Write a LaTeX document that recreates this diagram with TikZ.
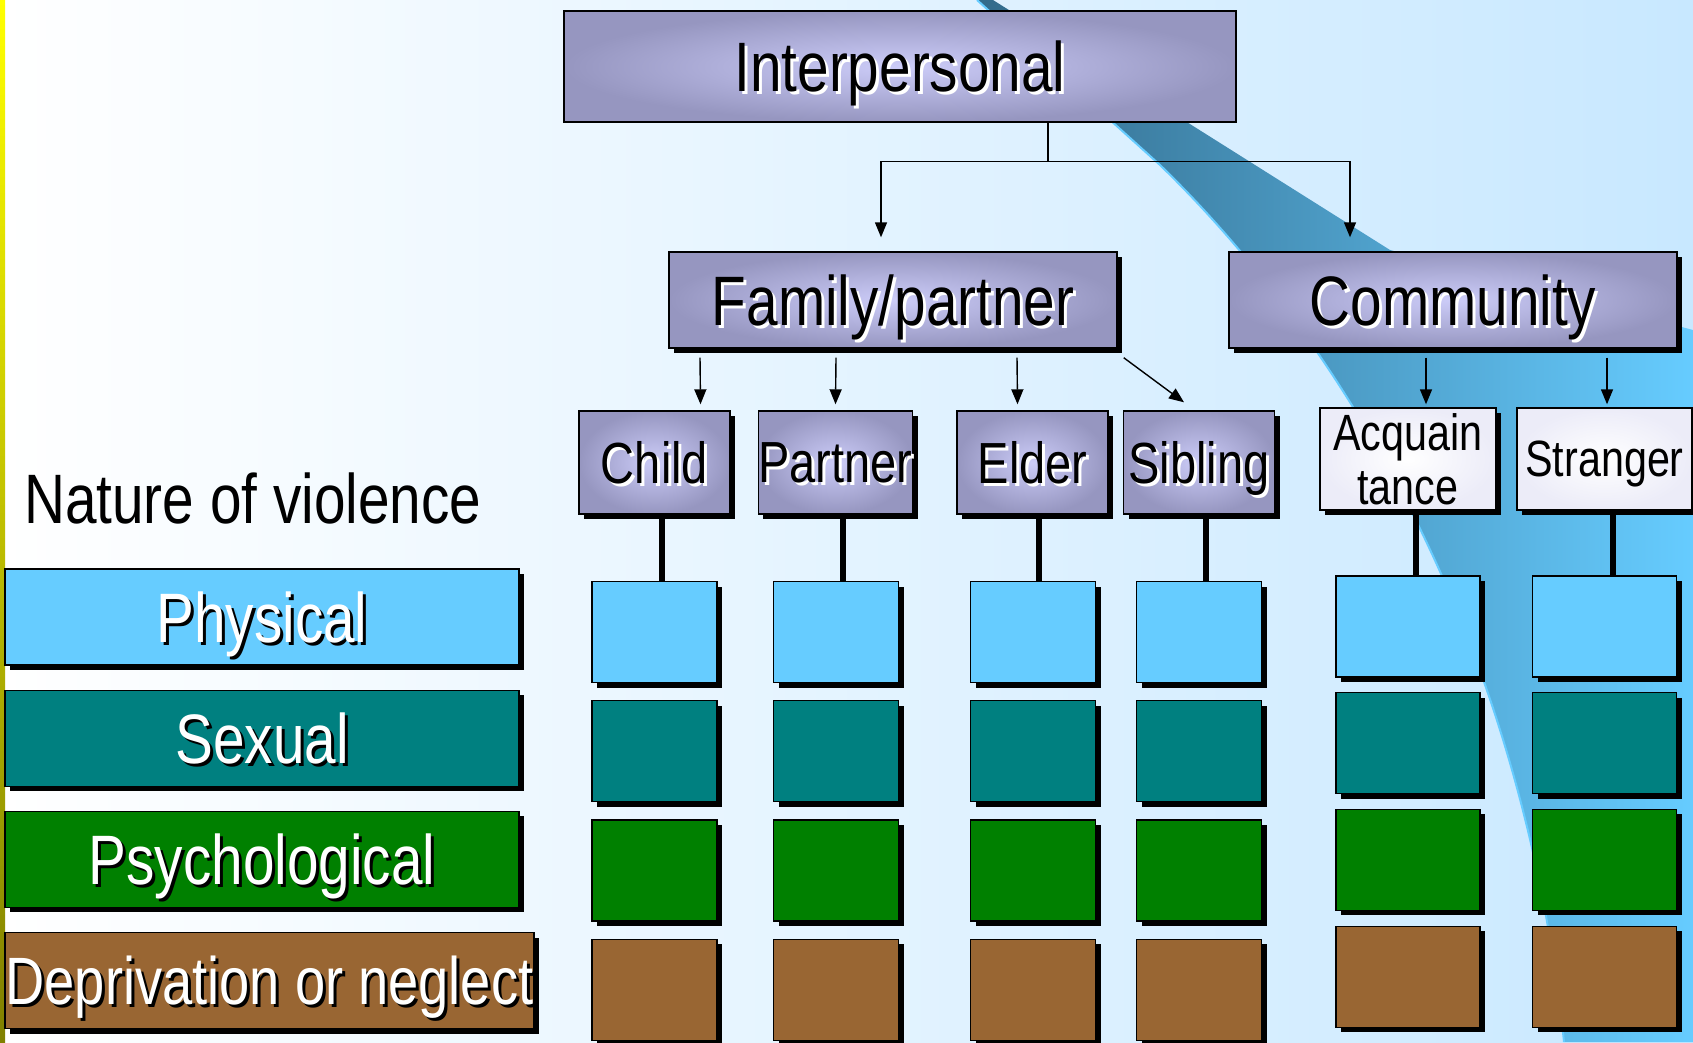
\documentclass[tikz,border=0pt]{standalone}
\usepackage{fontspec}
\setmainfont[FakeStretch=0.81]{Liberation Sans}
\usepackage{tikz}
\usetikzlibrary{arrows.meta,positioning,shadows}

\definecolor{boxdark}{RGB}{150,150,192}
\definecolor{boxlight}{RGB}{204,204,248}
\definecolor{whiteedge}{RGB}{236,236,248}
\definecolor{bgright}{RGB}{200,232,255}
\definecolor{swdark}{RGB}{50,106,138}
\definecolor{swlight}{RGB}{102,204,255}
\definecolor{stripbot}{RGB}{128,128,0}
\definecolor{physcol}{RGB}{102,204,255}
\definecolor{sexcol}{RGB}{0,128,128}
\definecolor{psycol}{RGB}{0,128,0}
\definecolor{depcol}{RGB}{153,102,51}

\newcommand{\orgfont}{\fontsize{70}{80}\selectfont}
\newcommand{\relfont}{\fontsize{58}{66}\selectfont}
\newcommand{\strfont}{\fontsize{51}{54}\selectfont}
\newcommand{\shtext}[3]{\makebox[0pt][l]{\hspace*{3pt}\raisebox{-3pt}{\color{#2}#3}}{\color{#1}#3}}

\tikzset{
    boxshadow/.style={drop shadow={shadow xshift=5pt,shadow yshift=-5pt,fill=black,opacity=1}},
    topbox/.style={draw=black, line width=1.4pt, shade, inner color=boxlight, outer color=boxdark, inner sep=0pt, text depth=0pt, font=\orgfont},
    relbox/.style={topbox, boxshadow, minimum width=151pt, minimum height=103pt, font=\relfont},
    strbox/.style={draw=black, line width=1.4pt, shade, inner color=white, outer color=whiteedge, boxshadow, inner sep=0pt, minimum width=176pt, minimum height=102pt, align=center, font=\strfont},
    cell/.style={draw=black, line width=1.2pt, boxshadow, minimum width=125pt, minimum height=101pt, inner sep=0pt},
    widecell/.style={cell, minimum width=144pt},
    kindbox/.style={draw=black, line width=1.2pt, boxshadow, minimum width=514pt, minimum height=96pt, inner sep=0pt, text depth=0pt, font=\orgfont},
    conn/.style={line width=1.4pt},
    stem/.style={line width=6pt}
}

\begin{document}
\begin{tikzpicture}[x=1pt, y=-1pt, >={Triangle[length=15pt,width=12pt]}]
    \useasboundingbox (0,0) rectangle (1693,1042);

    % Background and swoosh
    \shade[left color=white, right color=bgright] (0,0) rectangle (1693,1042);
    \shade[left color=swdark, right color=swlight] (977,0) -- (1160,165) .. controls (1330,330) and (1520,620) .. (1564,1042) -- (1693,1042) -- (1693,330) -- (1390,250) -- (993,0) -- cycle;
    \draw[swlight, line width=2pt] (977,0) -- (1160,165) .. controls (1330,330) and (1520,620) .. (1564,1042);
    \shade[top color=yellow, bottom color=stripbot] (0,0) rectangle (5,1042);

    % Top levels
    \node[topbox, minimum width=672pt, minimum height=111pt] (inter) at (900,66.5) {\shtext{black}{white}{Interpersonal}};
    \node[topbox, boxshadow, minimum width=448pt, minimum height=96pt] (family) at (893,300) {\shtext{black}{white}{Family/partner}};
    \node[topbox, boxshadow, minimum width=448pt, minimum height=96pt] (community) at (1453,300) {\shtext{black}{white}{Community}};

    \coordinate (split) at ([xshift=148pt,yshift=-39pt]inter.south);
    \coordinate (famin) at ([xshift=-12pt,yshift=14pt]family.north);
    \coordinate (comin) at ([xshift=-103pt,yshift=14pt]community.north);
    \draw[conn] ([xshift=148pt]inter.south) -- (split);
    \draw[conn, ->] (split) -| (famin);
    \draw[conn, ->] (split) -| (comin);

    % Relationships
    \node[relbox] (child) at (654.5,462.5) {\shtext{black}{white}{Child}};
    \node[relbox] (partner) at (835.5,462.5) {\shtext{black}{white}{Partner}};
    \node[relbox] (elder) at (1032.5,462.5) {\shtext{black}{white}{Elder}};
    \node[relbox] (sibling) at (1199,462.5) {\shtext{black}{white}{Sibling}};
    \node[strbox] (acquaint) at (1408,459) {Acquain\\tance};
    \node[strbox, minimum width=175pt, text depth=0pt] (stranger) at (1604.5,459) {Stranger};

    \draw[conn, ->] ([xshift=-193pt,yshift=-9pt]family.south) -- ([xshift=46pt,yshift=6pt]child.north);
    \draw[conn, ->] ([xshift=-57pt,yshift=-9pt]family.south) -- ([yshift=6pt]partner.north);
    \draw[conn, ->] ([xshift=124pt,yshift=-9pt]family.south) -- ([xshift=-15pt,yshift=6pt]elder.north);
    \draw[conn, ->] ([xshift=6pt,yshift=-9pt]family.south east) -- ([xshift=-15pt,yshift=8pt]sibling.north);
    \draw[conn, ->] ([xshift=-27pt,yshift=-9pt]community.south) -- ([xshift=18pt,yshift=3pt]acquaint.north);
    \draw[conn, ->] ([xshift=154pt,yshift=-9pt]community.south) -- ([xshift=2.5pt,yshift=3pt]stranger.north);

    % Nature of violence
    \node[anchor=base west, inner sep=0pt, font=\orgfont] (nature) at (24,523) {Nature of violence};
    \node[kindbox, fill=physcol] (physlbl) at (262,617) {\shtext{white}{black}{Physical}};
    \node[kindbox, fill=sexcol, below=24pt of physlbl] (sexlbl) {\shtext{white}{black}{Sexual}};
    \node[kindbox, fill=psycol, below=24pt of sexlbl] (psylbl) {\shtext{white}{black}{Psychological}};
    \node[kindbox, fill=depcol, minimum width=529pt, below=24pt of psylbl.south west, anchor=north west, font=\fontsize{67}{80}\selectfont] (deplbl) {\shtext{white}{black}{Deprivation or neglect}};

    % Child column
    \node[cell, fill=physcol] (childphys) at (654.5,632) {};
    \node[cell, fill=sexcol, below=17pt of childphys] (childsex) {};
    \node[cell, fill=psycol, below=17pt of childsex] (childpsy) {};
    \node[cell, fill=depcol, below=17pt of childpsy] (childdep) {};
    \draw[stem] ([xshift=7pt]child.south) -- ([xshift=7pt]childphys.north);

    % Partner column
    \node[cell, fill=physcol] (partphys) at (836,632) {};
    \node[cell, fill=sexcol, below=17pt of partphys] (partsex) {};
    \node[cell, fill=psycol, below=17pt of partsex] (partpsy) {};
    \node[cell, fill=depcol, below=17pt of partpsy] (partdep) {};
    \draw[stem] ([xshift=7pt]partner.south) -- ([xshift=7pt]partphys.north -| partner.south);

    % Elder column
    \node[cell, fill=physcol] (eldphys) at (1033,632) {};
    \node[cell, fill=sexcol, below=17pt of eldphys] (eldsex) {};
    \node[cell, fill=psycol, below=17pt of eldsex] (eldpsy) {};
    \node[cell, fill=depcol, below=17pt of eldpsy] (elddep) {};
    \draw[stem] ([xshift=6pt]elder.south) -- ([xshift=6pt]eldphys.north -| elder.south);

    % Sibling column
    \node[cell, fill=physcol] (sibphys) at (1199,632) {};
    \node[cell, fill=sexcol, below=17pt of sibphys] (sibsex) {};
    \node[cell, fill=psycol, below=17pt of sibsex] (sibpsy) {};
    \node[cell, fill=depcol, below=17pt of sibpsy] (sibdep) {};
    \draw[stem] ([xshift=7pt]sibling.south) -- ([xshift=7pt]sibphys.north);

    % Acquaintance column
    \node[widecell, fill=physcol] (acqphys) at (1408,626.5) {};
    \node[widecell, fill=sexcol, below=14.5pt of acqphys] (acqsex) {};
    \node[widecell, fill=psycol, below=14.5pt of acqsex] (acqpsy) {};
    \node[widecell, fill=depcol, below=14.5pt of acqpsy] (acqdep) {};
    \draw[stem] ([xshift=8pt]acquaint.south) -- ([xshift=8pt]acqphys.north);

    % Stranger column
    \node[widecell, fill=physcol] (strphys) at (1604.5,626.5) {};
    \node[widecell, fill=sexcol, below=14.5pt of strphys] (strsex) {};
    \node[widecell, fill=psycol, below=14.5pt of strsex] (strpsy) {};
    \node[widecell, fill=depcol, below=14.5pt of strpsy] (strdep) {};
    \draw[stem] ([xshift=8pt]stranger.south) -- ([xshift=8pt]strphys.north);
\end{tikzpicture}
\end{document}
